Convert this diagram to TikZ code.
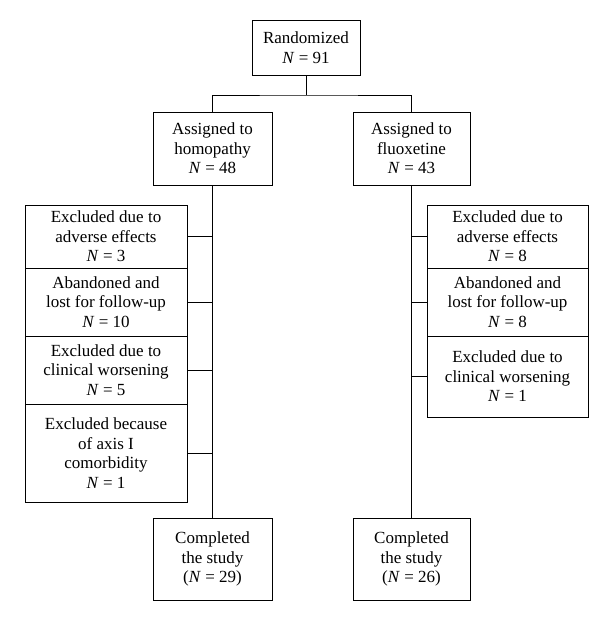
\documentclass[tikz,border=0pt]{standalone}
\usepackage{fontspec}
\setmainfont{Liberation Serif}
\newcommand{\NN}{\textit{N}}
\begin{document}
\begin{tikzpicture}[x=1pt,y=-1pt,
  bx/.style={draw,line width=0.8pt,align=center,inner sep=0pt,font=\fontsize{17}{19.5}\selectfont},
  ln/.style={line width=0.8pt}]
\useasboundingbox (0,0) rectangle (600,619);
\node[bx,minimum width=108,minimum height=55] (r) at (306,47.5) {Randomized\\\NN{} = 91};
\node[bx,minimum width=119,minimum height=73] (h) at (212.5,148.5) {Assigned to\\homopathy\\\NN{} = 48};
\node[bx,minimum width=117,minimum height=73] (f) at (411.5,148.5) {Assigned to\\fluoxetine\\\NN{} = 43};
\node[bx,minimum width=162,minimum height=63] (l1) at (106,236.5) {Excluded due to\\adverse effects\\\NN{} = 3};
\node[bx,minimum width=162,minimum height=68] (l2) at (106,302) {Abandoned and\\lost for follow-up\\\NN{} = 10};
\node[bx,minimum width=162,minimum height=68] (l3) at (106,370) {Excluded due to\\clinical worsening\\\NN{} = 5};
\node[bx,minimum width=162,minimum height=98] (l4) at (106,453) {Excluded because\\of axis I\\comorbidity\\\NN{} = 1};
\node[bx,minimum width=161,minimum height=63] (q1) at (507.5,236.5) {Excluded due to\\adverse effects\\\NN{} = 8};
\node[bx,minimum width=161,minimum height=68] (q2) at (507.5,302) {Abandoned and\\lost for follow-up\\\NN{} = 8};
\node[bx,minimum width=161,minimum height=81] (q3) at (507.5,376.5) {Excluded due to\\clinical worsening\\\NN{} = 1};
\node[bx,minimum width=119,minimum height=82] (c1) at (212.5,559) {Completed\\the study\\(\NN{} = 29)};
\node[bx,minimum width=117,minimum height=82] (c2) at (411.5,559) {Completed\\the study\\(\NN{} = 26)};
\coordinate (m) at (306,95);
\draw[ln] (r.south) -- (m);
\draw[ln] (h.north) |- (m) -| (f.north);
\draw[ln] (h.south) -- (c1.north);
\draw[ln] (f.south) -- (c2.north);
\foreach \b in {l1,l2,l3,l4} \draw[ln] (\b.east) -- (\b.east -| h.south);
\foreach \b in {q1,q2,q3} \draw[ln] (\b.west) -- (\b.west -| f.south);
\end{tikzpicture}
\end{document}
